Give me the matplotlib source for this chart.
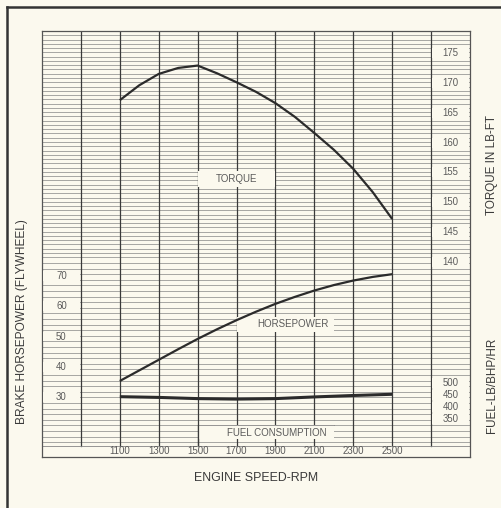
import matplotlib
matplotlib.use("Agg")
import matplotlib.pyplot as plt
import numpy as np
from matplotlib.patches import Rectangle
from matplotlib.lines import Line2D
from matplotlib.collections import LineCollection

# ---- data ----
rpm_torque = [1100, 1200, 1300, 1400, 1500, 1600, 1700, 1800, 1900, 2000, 2100, 2200, 2300, 2400, 2500]
torque = [167.1, 169.6, 171.5, 172.5, 172.9, 171.6, 170.1, 168.5, 166.6, 164.3, 161.6, 158.8, 155.6, 151.7, 147.2]

rpm_hp = [1100, 1200, 1300, 1400, 1500, 1600, 1700, 1800, 1900, 2000, 2100, 2200, 2300, 2400, 2500]
horsepower = [35.3, 38.8, 42.3, 45.8, 49.2, 52.4, 55.4, 58.2, 60.8, 63.1, 65.2, 67.0, 68.5, 69.7, 70.6]

rpm_fuel = [1100, 1300, 1500, 1700, 1900, 2100, 2300, 2500]
fuel = [443, 440, 435, 433, 435, 442, 448, 453]

rpm_ticks = [1100, 1300, 1500, 1700, 1900, 2100, 2300, 2500]
torque_ticks = [175, 170, 165, 160, 155, 150, 145, 140]
hp_ticks = [70, 60, 50, 40, 30]
fuel_ticks = [500, 450, 400, 350]

BG = "#fbf9ee"
INK = "#2b2b2b"
GRID = "#858585"
TXT = "#5a5a5a"
FONT = "Liberation Sans"

W, H = 501, 508
fig = plt.figure(figsize=(W / 100, H / 100), dpi=100, facecolor=BG)

# grid box in pixels: x 42..470, y 31..457
L, R, T, B = 42, 470, 31, 457
ax = fig.add_axes([L / W, 1 - B / H, (R - L) / W, (B - T) / H])
ax.set_facecolor(BG)
ax.set_xlim(700, 2900)
ax.set_ylim(107.33, 178.69)           # torque scale
ax.set_xticks([]); ax.set_yticks([])
for s in ax.spines.values():
    s.set_color("#555555"); s.set_linewidth(0.9)

ax_hp = ax.twinx()
ax_hp.set_ylim(10.17, 150.99)         # horsepower scale
ax_fu = ax.twinx()
ax_fu.set_ylim(191.7, 1966.7)         # fuel scale
for a in (ax_hp, ax_fu):
    a.patch.set_visible(False)
    a.set_yticks([]); a.set_xticks([])
    for s in a.spines.values():
        s.set_visible(False)

def frac(ypx):
    return (B - ypx) / (B - T)

# horizontal grid lines (axes-fraction y)
ys_up = np.arange(T + 4.27, 258, 4.27)
ys_lo = np.arange(ys_up[-1] + 5.6, 446, 5.6)
segs = [[(0, frac(y)), (1, frac(y))] for y in np.concatenate([ys_up, ys_lo])]
ax.add_collection(LineCollection(segs, colors=GRID, linewidths=0.5,
                                 transform=ax.transAxes, zorder=1))
# vertical grid lines
grid_bottom = frac(445.5)
for xv in range(900, 2900, 200):
    ax.plot([xv, xv], [grid_bottom, 1], transform=ax.get_xaxis_transform(),
            color="#3a3a3a", lw=0.9, zorder=1.2)
ax.plot([0, 1], [grid_bottom, grid_bottom], transform=ax.transAxes,
        color=GRID, lw=0.6, zorder=1.2)

def box(x0, x1, y0, y1):
    ax.add_patch(Rectangle((x0, y0), x1 - x0, y1 - y0, facecolor=BG,
                           edgecolor="none", zorder=2))

# label boxes in torque coords
box(1500, 1900, 152.5, 155.3)
box(1700, 2200, 128.3, 130.8)
box(1500, 2200, 110.3, 112.7)
ax.plot([1500, 2200], [112.75, 112.75], color=GRID, lw=0.6, zorder=2.1)
ax.plot([1500, 1500], [109.34, 112.75], color="#3a3a3a", lw=0.9, zorder=2.1)

txt_kw = dict(family=FONT, color=TXT, ha="center", va="center", zorder=3)
ax.text(1700, 153.9, "TORQUE", fontsize=7, **txt_kw)
ax.text(1990, 129.6, "HORSEPOWER", fontsize=7, **txt_kw)
ax.text(1905, 111.4, "FUEL CONSUMPTION", fontsize=7, **txt_kw)

# torque tick labels (right column)
for t in torque_ticks:
    box(2703, 2897, t - 0.85, t + 0.85)
    ax.text(2800, t, str(t), fontsize=6.9, **txt_kw)
# horsepower tick labels (left column)
for h in hp_ticks:
    ax_hp.add_patch(Rectangle((703, h - 1.6), 194, 3.2, facecolor=BG,
                              edgecolor="none", zorder=2))
    ax_hp.text(800, h, str(h), fontsize=6.9, **txt_kw)
# fuel tick labels (right column)
for f in fuel_ticks:
    ax_fu.add_patch(Rectangle((2703, f - 19), 194, 38, facecolor=BG,
                              edgecolor="none", zorder=2))
    ax_fu.text(2800, f, str(f), fontsize=6.9, **txt_kw)
# rpm tick labels
for r in rpm_ticks:
    ax.text(r, frac(451.5), str(r), transform=ax.get_xaxis_transform(),
            fontsize=7, **txt_kw)

# curves
ax.plot(rpm_torque, torque, color=INK, lw=1.6, zorder=4, solid_capstyle="butt")
ax_hp.plot(rpm_hp, horsepower, color=INK, lw=1.6, zorder=4, solid_capstyle="butt")
ax_fu.plot(rpm_fuel, fuel, color=INK, lw=2.2, zorder=4, solid_capstyle="butt")

# axis titles
lab_kw = dict(family=FONT, color="#3a3a3a", ha="center", va="center")
fig.text(256 / W, 1 - 478 / H, "ENGINE SPEED-RPM", fontsize=8.9, **lab_kw)
fig.text(22.5 / W, 1 - 322 / H, "BRAKE HORSEPOWER (FLYWHEEL)", fontsize=8.6,
         rotation=90, **lab_kw)
fig.text(492 / W, 1 - 165 / H, "TORQUE IN LB-FT", fontsize=8.4, rotation=90, **lab_kw)
fig.text(492 / W, 1 - 385 / H, "FUEL-LB/BHP/HR", fontsize=8.4, rotation=90, **lab_kw)

# outer frame (left and top)
fig.add_artist(Line2D([7 / W, 7 / W], [0, 1 - 7 / H], transform=fig.transFigure,
                      color="#333333", lw=1.8))
fig.add_artist(Line2D([7 / W, 1], [1 - 7 / H, 1 - 7 / H], transform=fig.transFigure,
                      color="#333333", lw=1.8))

fig.savefig("out.png", dpi=100, facecolor=BG)
